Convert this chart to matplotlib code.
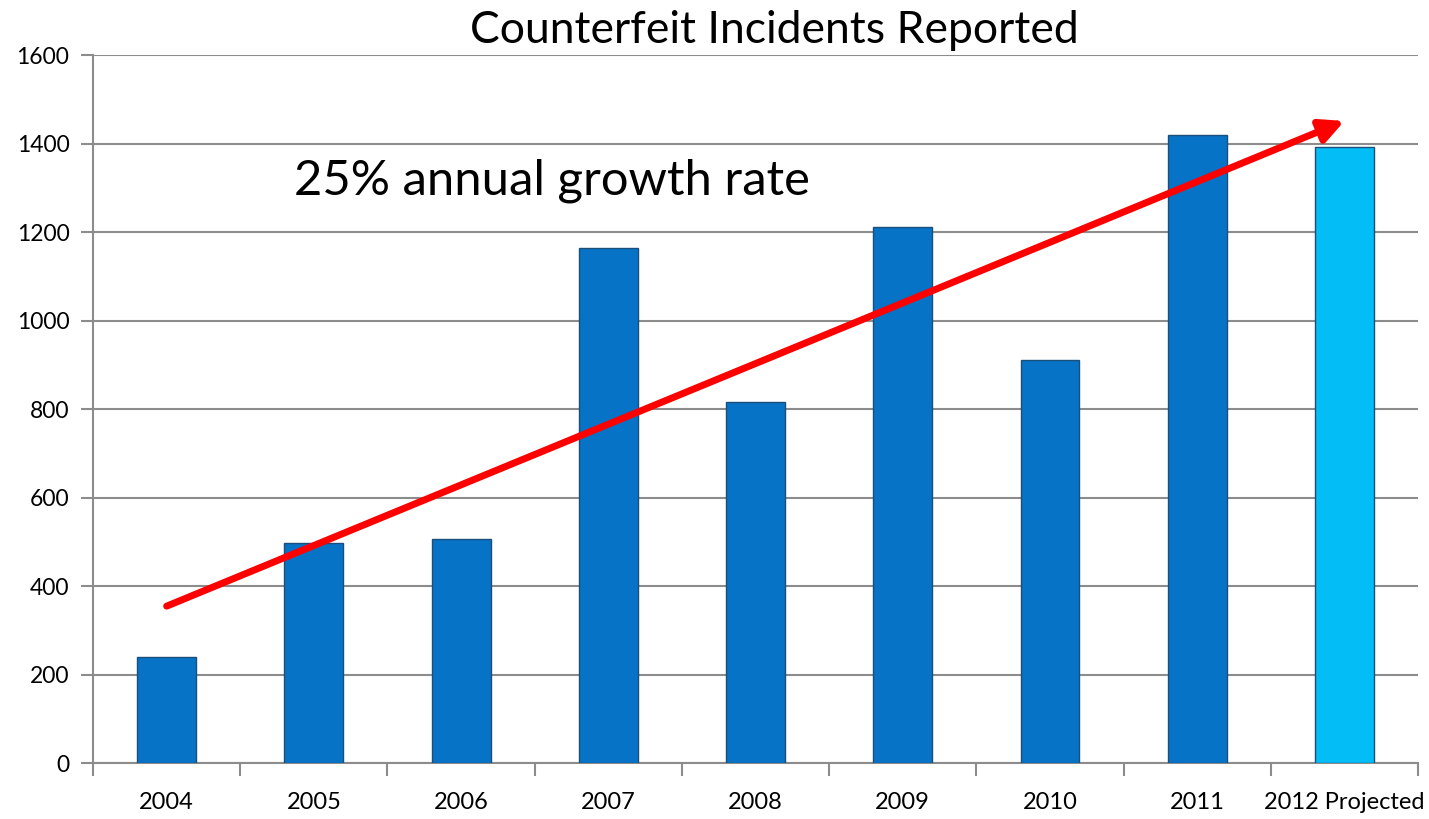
import numpy as np
import matplotlib
matplotlib.use("Agg")
import matplotlib.pyplot as plt

# data
years = ['2004', '2005', '2006', '2007', '2008', '2009', '2010', '2011', '2012 Projected']
incidents = [241, 497, 507, 1163, 816, 1212, 911, 1419, 1392]
bar_colors = ['#0673C6'] * 8 + ['#03BDF7']
trend_start = (0.0, 355)
trend_end = (8.0, 1451)

plt.rcParams['font.family'] = ['Lato', 'DejaVu Sans']

fig = plt.figure(figsize=(14.29, 8.19), dpi=100)
ax = fig.add_axes([0.0651, 0.068, 0.9272, 0.8648])

x = np.arange(len(years))
ax.bar(x, incidents, width=0.40, color=bar_colors, edgecolor='#1B4F7A', linewidth=1.0, zorder=3)

ax.set_xlim(-0.5, len(years) - 0.5)
ax.set_ylim(0, 1600)
ax.set_yticks(range(0, 1601, 200))
ax.yaxis.grid(True, color='#8C8C8C', linewidth=1.5, zorder=0)
ax.set_axisbelow(True)

ax.set_xticks(x)
ax.set_xticklabels(years, fontsize=17)
ax.set_xticks(np.arange(-0.5, len(years)), minor=True)
ax.tick_params(axis='x', which='major', length=0, pad=21)
ax.tick_params(axis='x', which='minor', length=9, width=1.5, color='#8C8C8C')
ax.tick_params(axis='y', length=9, width=1.5, color='#8C8C8C', labelsize=16.5, pad=8)

for side in ['top', 'right']:
    ax.spines[side].set_visible(False)
for side in ['left', 'bottom']:
    ax.spines[side].set_color('#8C8C8C')
    ax.spines[side].set_linewidth(1.5)

ax.annotate('', xy=trend_end, xytext=trend_start,
            arrowprops=dict(arrowstyle='-|>,head_length=1.4,head_width=0.7',
                            color='#FF0000', lw=5, shrinkA=0, shrinkB=0),
            zorder=5)

ax.text(2.62, 1317, '25% annual growth rate', fontsize=35.3, ha='center', va='center')
fig.text(0.542, 0.963, 'Counterfeit Incidents Reported', fontsize=32, ha='center', va='center')

fig.savefig('out.png', dpi=100)
